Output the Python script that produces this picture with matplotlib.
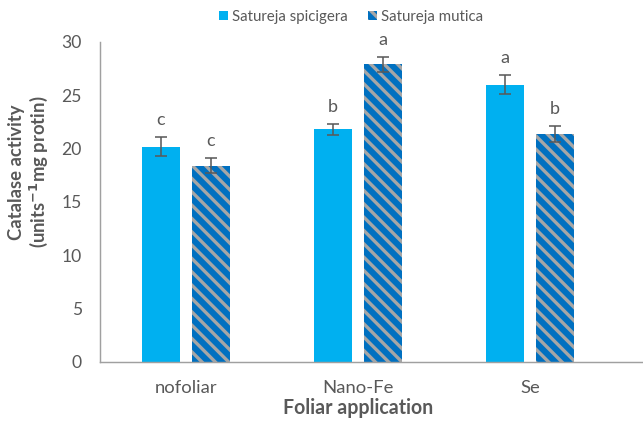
import numpy as np
import matplotlib
matplotlib.use("Agg")
import matplotlib.pyplot as plt
from matplotlib.patches import Patch

# Catalase activity, two Satureja species under three foliar treatments
treatments = ["nofoliar", "Nano-Fe", "Se"]
spicigera = [20.2, 21.8, 26.0]
spicigera_err = [0.9, 0.5, 0.9]
mutica = [18.4, 27.9, 21.4]
mutica_err = [0.7, 0.7, 0.75]
spicigera_letters = ["c", "b", "a"]
mutica_letters = ["c", "a", "b"]

DPI = 80
W, H = 643, 421
def pt(px):
    return px * 72.0 / DPI

plt.rcParams['font.family'] = ['Lato', 'DejaVu Sans']
plt.rcParams['hatch.linewidth'] = 3.0
plt.rcParams['hatch.color'] = '#a6a6a6'

c_light = '#00b0f0'
c_dark = '#0070c0'
c_text = '#595959'
c_axis = '#a0a0a0'

fig = plt.figure(figsize=(W / DPI, H / DPI), dpi=DPI)
ax = fig.add_axes([100 / W, (H - 362) / H, (W - 100) / W, (362 - 42) / H])

x = np.arange(len(treatments))
bw = 0.22
off = 0.145

ax.bar(x - off, spicigera, bw, color=c_light, zorder=2)
ax.bar(x + off, mutica, bw, color=c_dark, hatch='\\\\', edgecolor='#a6a6a6',
       linewidth=0, zorder=2)
ax.errorbar(x - off, spicigera, yerr=spicigera_err, fmt='none', ecolor=c_text,
            elinewidth=1.4, capsize=pt(6), capthick=1.4, zorder=3)
ax.errorbar(x + off, mutica, yerr=mutica_err, fmt='none', ecolor=c_text,
            elinewidth=1.4, capsize=pt(6), capthick=1.4, zorder=3)

for i in range(len(treatments)):
    ax.annotate(spicigera_letters[i], (x[i] - off, spicigera[i] + spicigera_err[i]),
                xytext=(0, pt(9)), textcoords='offset points', ha='center',
                va='bottom', fontsize=pt(18), color=c_text)
    ax.annotate(mutica_letters[i], (x[i] + off, mutica[i] + mutica_err[i]),
                xytext=(0, pt(9)), textcoords='offset points', ha='center',
                va='bottom', fontsize=pt(18), color=c_text)

ax.set_ylim(0, 30)
ax.set_yticks(range(0, 31, 5))
ax.set_xlim(-0.5, (W - 186) / 172.0)
ax.set_xticks(x)
ax.set_xticklabels(treatments)
ax.tick_params(axis='y', length=0, pad=pt(18), labelsize=pt(17.5), labelcolor=c_text)
ax.tick_params(axis='x', length=0, pad=pt(18), labelsize=pt(18.5), labelcolor=c_text)
for s in ['top', 'right']:
    ax.spines[s].set_visible(False)
for s in ['left', 'bottom']:
    ax.spines[s].set_color(c_axis)
    ax.spines[s].set_linewidth(1.3)

fig.text(358 / W, 1 - 408 / H, "Foliar application", ha='center', va='center',
         fontsize=pt(19.5), fontweight='bold', color=c_text)
fig.text(29 / W, 1 - 172 / H, "Catalase activity\n(units$^{\\mathbf{-1}}$mg protin)",
         ha='center', va='center', rotation=90, multialignment='center',
         fontsize=pt(18.5), fontweight='bold', color=c_text, linespacing=1.15)

handles = [Patch(facecolor=c_light, label='Satureja spicigera'),
           Patch(facecolor=c_dark, hatch='\\\\', edgecolor='#a6a6a6', linewidth=0,
                 label='Satureja mutica')]
fig.legend(handles=handles, loc='center', bbox_to_anchor=(351 / W, 1 - 17 / H),
           ncol=2, frameon=False, fontsize=pt(15), handlelength=0.6,
           handleheight=0.6, handletextpad=0.3, columnspacing=1.3,
           labelcolor=c_text)

fig.savefig("out.png", dpi=DPI)
